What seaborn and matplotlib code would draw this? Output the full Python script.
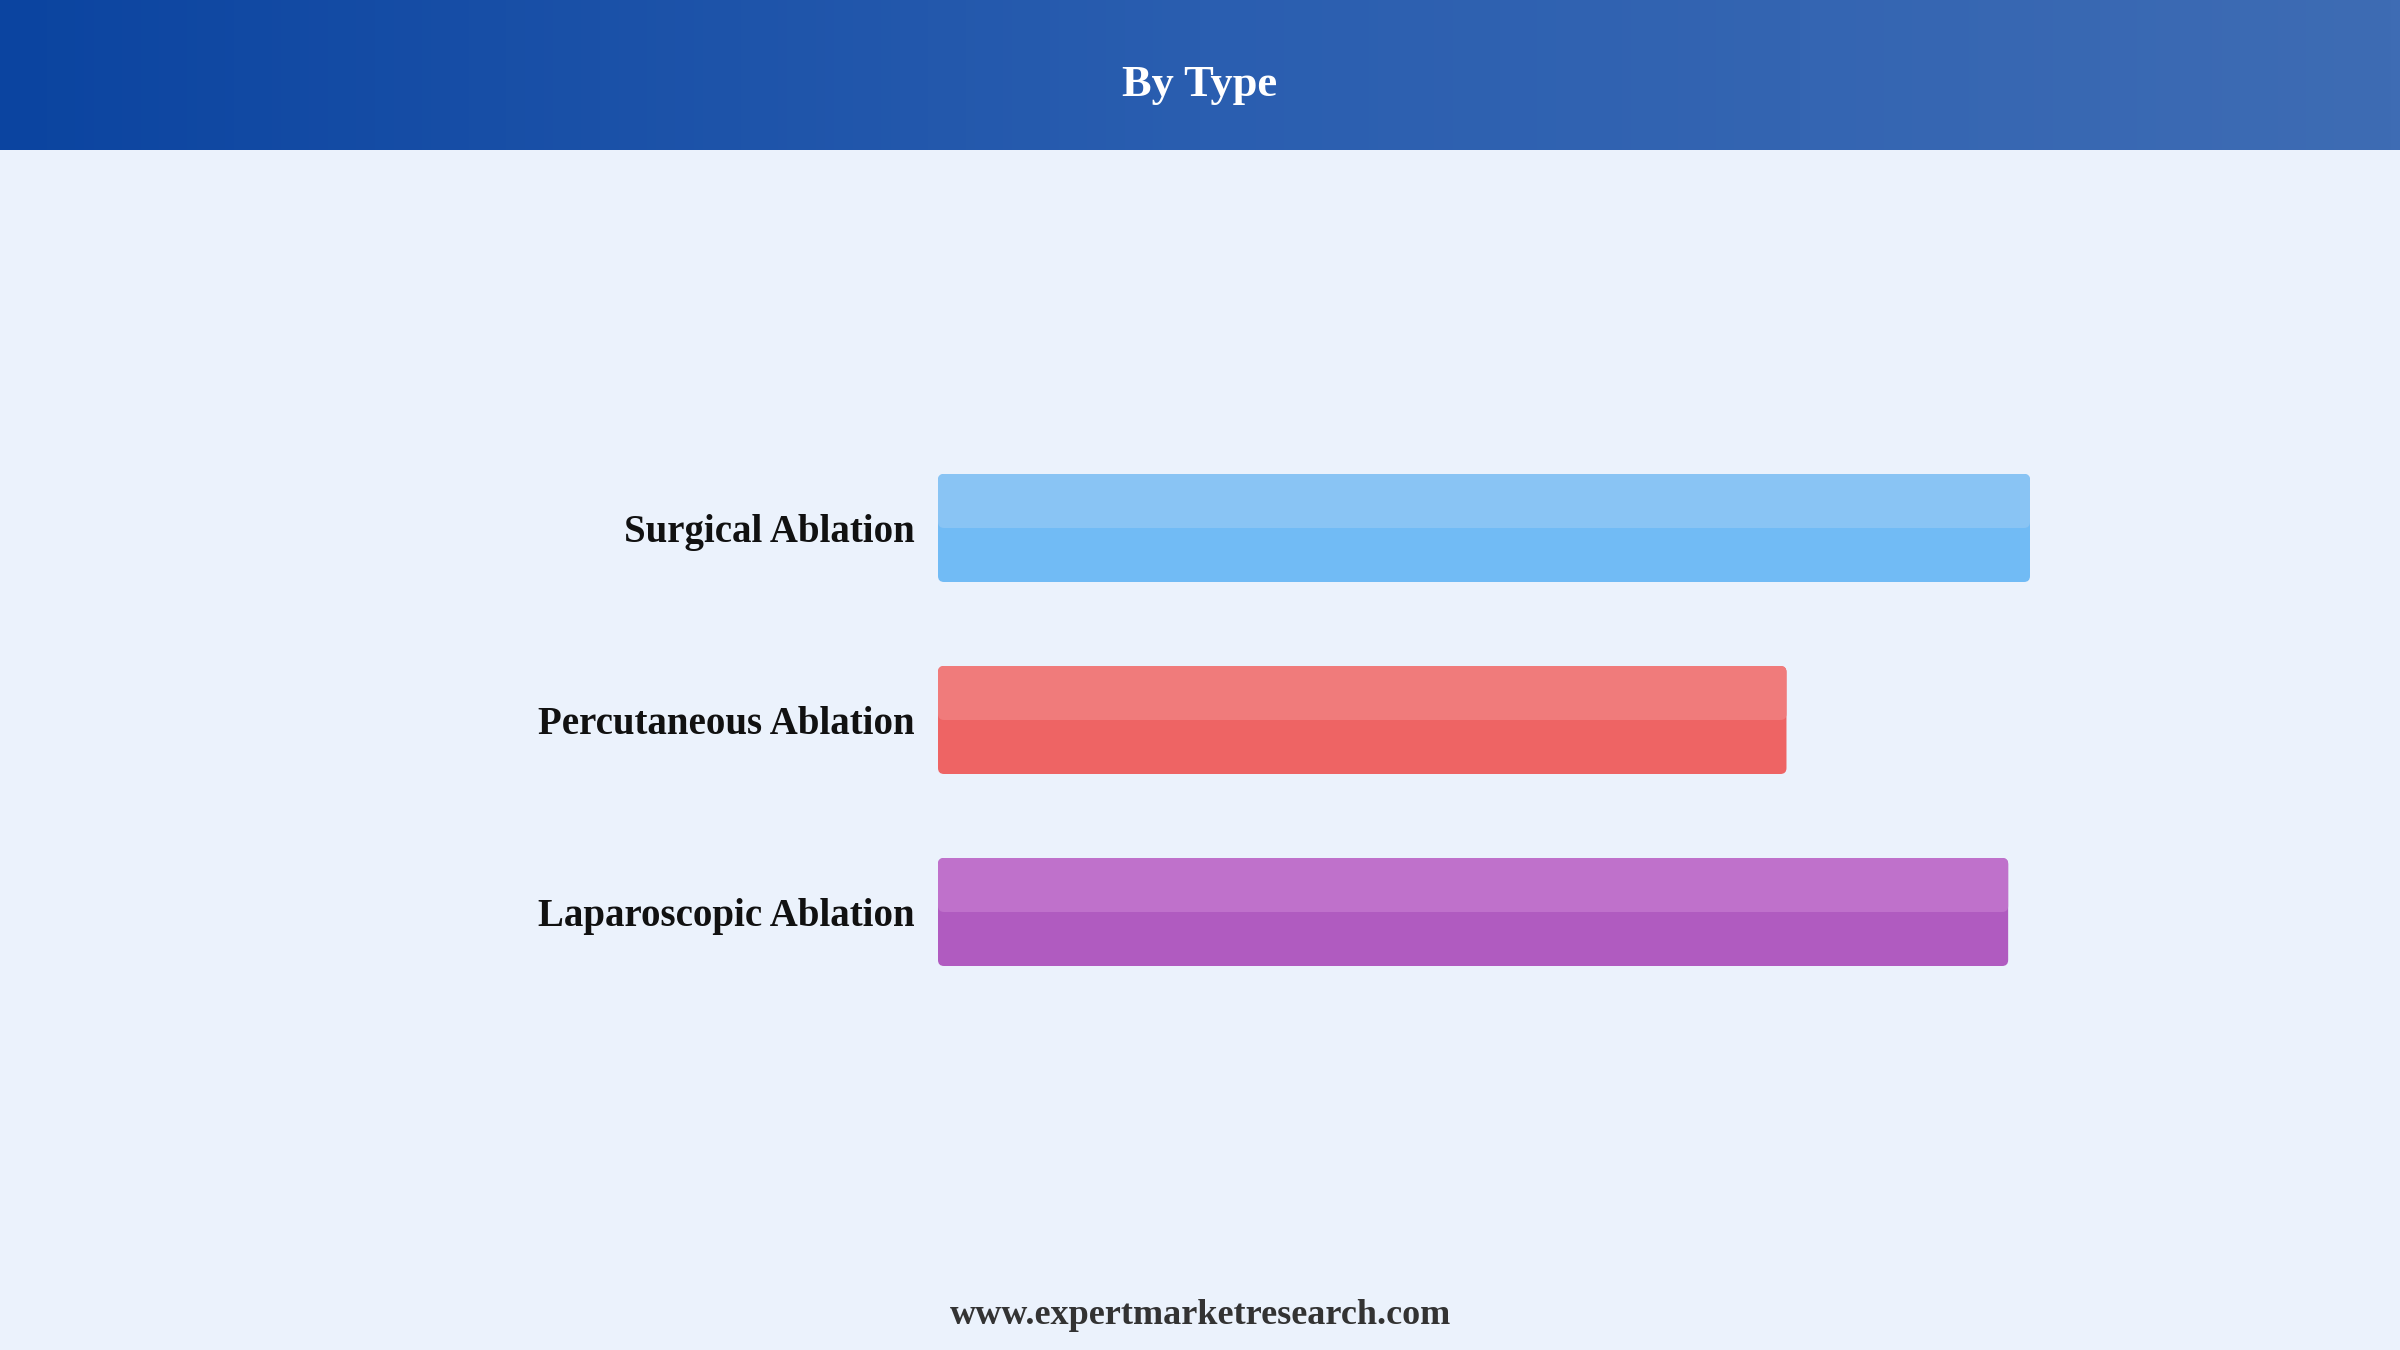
import numpy as np
import pandas as pd
import matplotlib
matplotlib.use("Agg")
import matplotlib.pyplot as plt
import seaborn as sns
from matplotlib.patches import FancyBboxPatch
from matplotlib.colors import LinearSegmentedColormap

# data (relative bar lengths)
categories = ["Surgical Ablation", "Percutaneous Ablation", "Laparoscopic Ablation"]
values = [100.0, 77.7, 98.0]
base_colors = ["#71BBF5", "#EE6464", "#B05BC0"]
top_colors = ["#89C4F4", "#F07B7B", "#BF71CB"]

title = "By Type"
footer = "www.expertmarketresearch.com"

BG = "#EBF2FC"
W, H = 2400, 1350

sns.set_style("white")
plt.rcParams["font.family"] = ["Liberation Serif", "DejaVu Serif"]

fig = plt.figure(figsize=(24, 13.5), dpi=100)
fig.patch.set_facecolor(BG)

# header band with gradient
hdr = fig.add_axes([0, 1 - 150 / H, 1, 150 / H])
grad = np.linspace(0, 1, 256).reshape(1, -1)
cmap = LinearSegmentedColormap.from_list("hdr", ["#0B44A0", "#2A5EB0", "#3E6CB4"])
hdr.imshow(grad, aspect="auto", cmap=cmap, extent=[0, 1, 0, 1])
hdr.set_axis_off()
fig.text(0.5, 1 - 85 / H, title, ha="center", va="center", color="white",
         fontsize=32, fontweight="bold")

# bar chart area
ax = fig.add_axes([938 / W, 1 - 1104 / H, 1092 / W, 768 / H])
ax.set_facecolor(BG)
df = pd.DataFrame({"category": categories, "value": values})
sns.barplot(data=df, x="value", y="category", hue="category", palette=base_colors,
            orient="h", width=0.5625, legend=False, ax=ax)
ax.set_xlim(0, 100)
ax.set_ylim(3, -1)

# rebuild bars with rounded corners and lighter top half
rs = 0.55
aspect = (6 / 192) / rs
for i, p in enumerate(list(ax.patches)):
    x0, y0, w, h = p.get_x(), p.get_y(), p.get_width(), p.get_height()
    p.set_visible(False)
    ax.add_patch(FancyBboxPatch((x0, y0), w, h,
                                boxstyle=f"round,pad=0,rounding_size={rs}",
                                mutation_aspect=aspect, facecolor=base_colors[i],
                                edgecolor="none", zorder=2))
    ax.add_patch(FancyBboxPatch((x0, y0), w, h / 2,
                                boxstyle=f"round,pad=0,rounding_size={rs}",
                                mutation_aspect=aspect, facecolor=top_colors[i],
                                edgecolor="none", zorder=3))

ax.set_xlabel("")
ax.set_ylabel("")
ax.set_xticks([])
ax.tick_params(axis="y", length=0, pad=17)
for lab in ax.get_yticklabels():
    lab.set_fontsize(28)
    lab.set_fontweight("bold")
    lab.set_color("#111111")
sns.despine(ax=ax, left=True, bottom=True)

fig.text(0.5, 1 - 1316 / H, footer, ha="center", va="center", color="#333333",
         fontsize=26, fontweight="bold")

fig.savefig("out.png", dpi=100, facecolor=BG)
plt.close(fig)
